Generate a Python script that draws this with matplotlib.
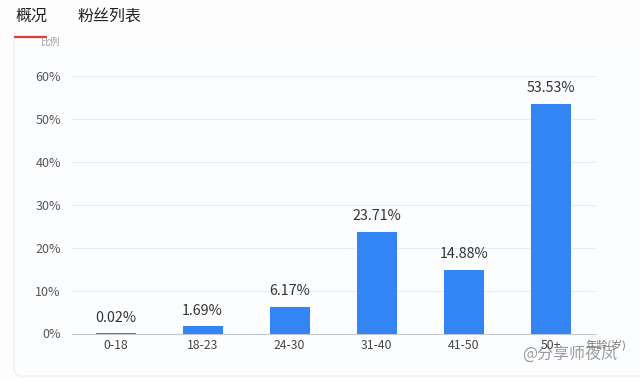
import matplotlib
matplotlib.use('Agg')
import matplotlib.pyplot as plt
from matplotlib.patches import FancyBboxPatch

plt.rcParams['font.family'] = ['Noto Sans CJK SC', 'DejaVu Sans']

# Age groups and share of followers
ages = ['0-18', '18-23', '24-30', '31-40', '41-50', '50+']
shares = [0.02, 1.69, 6.17, 23.71, 14.88, 53.53]
share_labels = ['0.02%', '1.69%', '6.17%', '23.71%', '14.88%', '53.53%']
yticks = [0, 10, 20, 30, 40, 50, 60]
ytick_labels = ['0%', '10%', '20%', '30%', '40%', '50%', '60%']
tabs = ['概况', '粉丝列表']

fig = plt.figure(figsize=(6.4, 3.79), dpi=100, facecolor='#fdfdfe')

# rounded card behind the chart, top edge hidden under the tabs
bg = fig.add_axes([0, 0, 1, 1])
bg.set_xlim(0, 640)
bg.set_ylim(379, 0)
bg.axis('off')
bg.add_patch(FancyBboxPatch((14, 20), 700, 356, boxstyle='round,pad=0,rounding_size=8',
                            fc='#fcfdff', ec='#eceff5', lw=1))
bg.axhspan(0, 36, color='#fdfdfe', lw=0)
bg.plot([14, 47], [36.5, 36.5], color='#d9402f', lw=1.6, solid_capstyle='butt')

bg.text(15, 16, tabs[0], fontsize=11.5, color='#222222', va='center')
bg.text(78, 16, tabs[1], fontsize=11.5, color='#222222', va='center')
bg.text(50, 42, '比例', fontsize=7, color='#888888', va='center', ha='center', alpha=0.8)
bg.text(606, 345, '年龄(岁)', fontsize=8, color='#777777', va='center', ha='center')

# watermark
bg.text(570, 355, '@分享师夜凤', fontsize=11.5, color='#8a8a8a', va='center', ha='center', alpha=0.85)

ax = fig.add_axes([72 / 640, 1 - 333.5 / 379, (596 - 72) / 640, (333.5 - 76) / 379])
ax.patch.set_alpha(0)
x = list(range(len(ages)))
ax.bar(x, shares, width=0.46, color='#3385f5', zorder=3)
for xi, s, lab in zip(x, shares, share_labels):
    ax.text(xi, s + 2.0, lab, ha='center', va='bottom', fontsize=10.3, color='#333333')

ax.set_xlim(-0.5, 5.52)
ax.set_ylim(0, 60)
ax.set_yticks(yticks)
ax.set_yticklabels(ytick_labels, fontsize=9, color='#555555')
ax.set_xticks(x)
ax.set_xticklabels(ages, fontsize=8.8, color='#444444')
ax.tick_params(axis='both', length=0)
ax.tick_params(axis='x', pad=4)
ax.tick_params(axis='y', pad=8)
ax.grid(axis='y', color='#e8ebf2', lw=0.8, zorder=0)
ax.set_axisbelow(True)
for side in ['top', 'right', 'left']:
    ax.spines[side].set_visible(False)
ax.spines['bottom'].set_color('#c4c8d0')

fig.savefig('out.png', dpi=100)
